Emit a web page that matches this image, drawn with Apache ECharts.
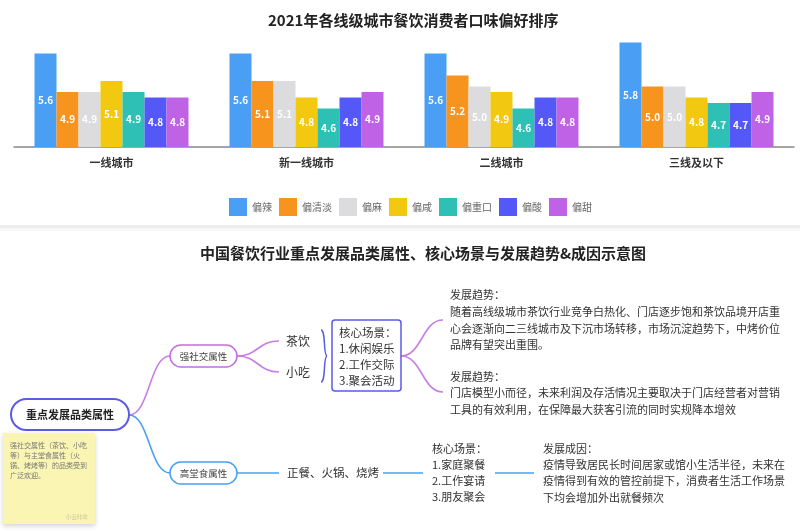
<!DOCTYPE html>
<html>
<head>
<meta charset="utf-8">
<script src="https://cdn.jsdelivr.net/npm/echarts@6/dist/echarts.min.js"></script>
<style>html,body{margin:0;padding:0;background:#fff}#c{width:800px;height:531px}</style>
</head>
<body>
<div id="c"></div>
<script>
// ---- chart data ----
var chartTitle = '2021年各线级城市餐饮消费者口味偏好排序';
var categories = ['一线城市', '新一线城市', '二线城市', '三线及以下'];
var seriesNames = ['偏辣', '偏清淡', '偏麻', '偏咸', '偏重口', '偏酸', '偏甜'];
var spicy = [5.6, 5.6, 5.6, 5.8];
var light = [4.9, 5.1, 5.2, 5.0];
var numbing = [4.9, 5.1, 5.0, 5.0];
var salty = [5.1, 4.8, 4.9, 4.8];
var heavy = [4.9, 4.6, 4.6, 4.7];
var sour = [4.8, 4.8, 4.8, 4.7];
var sweet = [4.8, 4.9, 4.8, 4.9];
var seriesValues = [spicy, light, numbing, salty, heavy, sour, sweet];
var colors = ['#4A9FF5', '#F7941D', '#DCDCDE', '#F2C811', '#2EC0B4', '#5458F7', '#C062E6'];

// ---- diagram texts ----
var mapTitle = '中国餐饮行业重点发展品类属性、核心场景与发展趋势&成因示意图';
var rootLabel = '重点发展品类属性';
var branchLabels = ['强社交属性', '高堂食属性'];
var socialItems = ['茶饮', '小吃'];
var socialScenes = ['核心场景：', '1.休闲娱乐', '2.工作交际', '3.聚会活动'];
var trend1 = ['发展趋势：', '随着高线级城市茶饮行业竞争白热化、门店逐步饱和茶饮品境开店重', '心会逐渐向二三线城市及下沉市场转移，市场沉淀趋势下，中烤价位', '品牌有望突出重围。'];
var trend2 = ['发展趋势：', '门店模型小而径，未来利润及存活情况主要取决于门店经营者对营销', '工具的有效利用，在保障最大获客引流的同时实规降本增效'];
var dineItems = '正餐、火锅、烧烤';
var dineScenes = ['核心场景：', '1.家庭聚餐', '2.工作宴请', '3.朋友聚会'];
var dineCause = ['发展成因：', '疫情导致居民长时间居家或馆小生活半径，未来在', '疫情得到有效的管控前提下，消费者生活工作场景', '下均会增加外出就餐频次'];
var noteLines = ['强社交属性（茶饮、小吃', '等）与主堂食属性（火', '锅、烤烤等）的品类受到', '广泛欢迎。'];
var noteSign = '小云咔咔';

var FF = '"Noto Sans CJK SC", "Noto Sans", sans-serif';
var PURPLE = '#C77FE5', BLUE = '#4AA0F0', INDIGO = '#5B5BE6';

function txt(s, x, y, size, color, opts) {
  opts = opts || {};
  return {
    type: 'text', z: 10,
    style: {
      text: s, x: x, y: y,
      font: (opts.bold ? 'bold ' : '') + size + 'px ' + FF,
      fill: color, textAlign: opts.align || 'left', textVerticalAlign: 'middle'
    }
  };
}
function lines(arr, x, ys, size, color) {
  return arr.map(function (s, i) { return txt(s, x, ys[i], size, color); });
}
function curve(x1, y1, x2, y2, color) {
  var mx = (x1 + x2) / 2;
  return {
    type: 'bezierCurve',
    shape: { x1: x1, y1: y1, cpx1: mx, cpy1: y1, cpx2: mx, cpy2: y2, x2: x2, y2: y2 },
    style: { stroke: color, lineWidth: 1.6, fill: null }
  };
}
function line(x1, y1, x2, y2, color) {
  return { type: 'line', shape: { x1: x1, y1: y1, x2: x2, y2: y2 }, style: { stroke: color, lineWidth: 1.6 } };
}
function pill(x, y, w, h, color, lw) {
  return { type: 'rect', shape: { x: x, y: y, width: w, height: h, r: h / 2 }, style: { fill: '#fff', stroke: color, lineWidth: lw } };
}

var graphics = [];
// separator
graphics.push({ type: 'rect', shape: { x: 0, y: 225, width: 800, height: 3 }, style: { fill: '#ececec' } });
graphics.push({ type: 'rect', shape: { x: 0, y: 228, width: 800, height: 3 }, style: { fill: '#f7f7f7' } });
// map title
graphics.push(txt(mapTitle, 423, 253, 15, '#222', { bold: true, align: 'center' }));
// curves
graphics.push(curve(129, 415, 170, 356, PURPLE));
graphics.push(curve(129, 415, 170, 473, BLUE));
graphics.push(curve(237, 356, 279, 341, PURPLE));
graphics.push(curve(237, 356, 279, 372, PURPLE));
graphics.push(curve(401, 356, 443, 320, PURPLE));
graphics.push(curve(401, 356, 443, 392, PURPLE));
graphics.push(line(237, 473, 279, 473, BLUE));
graphics.push(line(383, 473, 423, 473, BLUE));
graphics.push(line(495, 473, 534, 473, BLUE));
// nodes
graphics.push(pill(11, 399, 118, 31, INDIGO, 2));
graphics.push(txt(rootLabel, 70, 415, 11, '#222', { bold: true, align: 'center' }));
graphics.push(pill(170, 345, 67, 22, '#C36EE0', 1.5));
graphics.push(txt(branchLabels[0], 203.5, 356, 9.5, '#444', { align: 'center' }));
graphics.push(pill(170, 462, 67, 22, BLUE, 1.5));
graphics.push(txt(branchLabels[1], 203.5, 473, 9.5, '#444', { align: 'center' }));
// social items
graphics.push(txt(socialItems[0], 286, 341, 12, '#333'));
graphics.push(txt(socialItems[1], 286, 372, 12, '#333'));
// brace
graphics.push({ type: 'bezierCurve', shape: { x1: 321, y1: 330, cpx1: 326, cpy1: 330, cpx2: 323, cpy2: 355, x2: 327, y2: 356 }, style: { stroke: INDIGO, lineWidth: 1.5, fill: null } });
graphics.push({ type: 'bezierCurve', shape: { x1: 321, y1: 382, cpx1: 326, cpy1: 382, cpx2: 323, cpy2: 357, x2: 327, y2: 356 }, style: { stroke: INDIGO, lineWidth: 1.5, fill: null } });
// scene box
graphics.push({ type: 'rect', shape: { x: 332, y: 320, width: 69, height: 71, r: 3 }, style: { fill: '#fff', stroke: INDIGO, lineWidth: 1.5 } });
graphics = graphics.concat(lines(socialScenes, 339, [333, 349, 365, 381], 11.5, '#333'));
// trends
graphics = graphics.concat(lines(trend1, 450, [295, 312, 329, 345], 11, '#333'));
graphics = graphics.concat(lines(trend2, 450, [377, 393, 410], 11, '#333'));
// dine branch
graphics.push(txt(dineItems, 287, 473, 11.5, '#333'));
graphics = graphics.concat(lines(dineScenes, 432, [449, 465, 481, 497], 11, '#333'));
graphics = graphics.concat(lines(dineCause, 543, [449, 465, 481, 498], 11, '#333'));
// sticky note
graphics.push({ type: 'rect', shape: { x: 3, y: 433, width: 92, height: 91 }, style: { fill: '#FBF5B4', shadowBlur: 5, shadowColor: 'rgba(0,0,0,0.18)', shadowOffsetY: 2 } });
graphics = graphics.concat(lines(noteLines, 10, [445, 455, 465, 475], 7, '#777'));
graphics.push(txt(noteSign, 88, 517, 5.5, '#c8c29a', { align: 'right' }));

var chart = echarts.init(document.getElementById('c'));
chart.setOption({
  animation: false,
  backgroundColor: '#fff',
  textStyle: { fontFamily: FF },
  title: { text: chartTitle, left: 263, top: 8, textStyle: { fontSize: 15, fontWeight: 'bold', color: '#222', fontFamily: FF } },
  legend: {
    data: seriesNames, left: 224, top: 193, itemWidth: 18, itemHeight: 18, itemGap: 7, icon: 'rect',
    textStyle: { fontSize: 10, color: '#666', width: 30, fontFamily: FF }
  },
  grid: { left: 14, right: 6, top: 37, height: 110, containLabel: false },
  xAxis: {
    type: 'category', data: categories,
    axisLine: { lineStyle: { color: '#888', width: 1.5 } },
    axisTick: { show: false },
    axisLabel: { color: '#333', fontSize: 11, fontWeight: 'bold', margin: 10 }
  },
  yAxis: { type: 'value', min: 3.9, max: 5.9, startValue: 3.9, show: false, splitLine: { show: false } },
  series: seriesNames.map(function (n, i) {
    return {
      name: n, type: 'bar', data: seriesValues[i], barWidth: 22, barGap: '0%',
      itemStyle: { color: colors[i] },
      label: { show: true, position: 'inside', color: '#fff', fontSize: 10, fontWeight: 'bold',
        formatter: function (p) { return p.value.toFixed(1); } }
    };
  }),
  graphic: graphics
});
</script>
</body>
</html>
